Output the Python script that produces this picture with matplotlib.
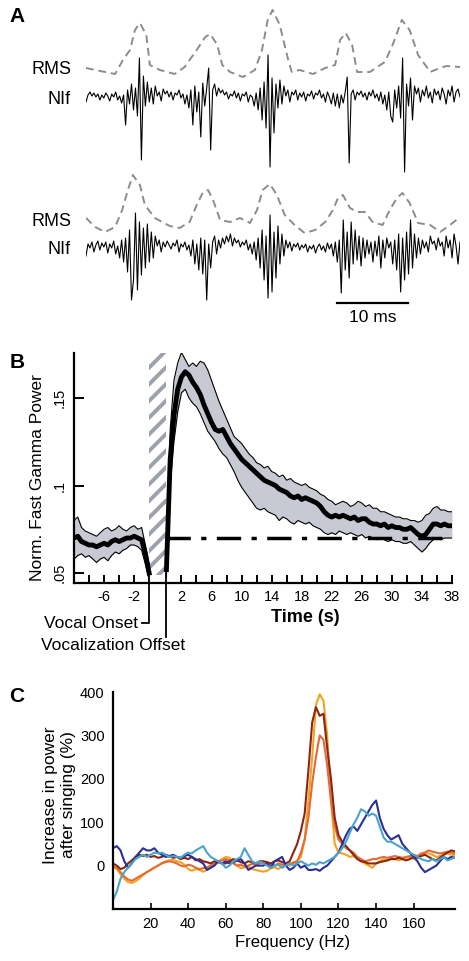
import numpy as np
import matplotlib
matplotlib.use("Agg")
import matplotlib.pyplot as plt
from matplotlib.patches import Rectangle
from matplotlib.transforms import blended_transform_factory

plt.rcParams['font.family'] = ['Liberation Sans', 'DejaVu Sans']
plt.rcParams['hatch.linewidth'] = 2.8

W, H = 469, 961


def fx(px):
    return px / W


def fy(py):
    return 1 - py / H


# ---------------- Panel A: NIf traces (arbitrary units) ----------------
trace_len_ms = 52.7
nif_1 = [-4, 3, 6, 2, 5, 1, 4, -2, 3, 0,
         5, 2, -3, 4, 1, 6, -2, 2, -5, 3,
         -27, 8, -6, 14, -12, 10, -18, 40, -62, 22,
         -8, 16, -4, 10, -6, 12, 2, 6, -3, 9,
         4, 7, 1, 6, -2, 5, 3, 8, 0, 4,
         -6, 3, -10, 8, -27, 12, -14, 6, -39, 15,
         -8, 10, 30, -52, 8, 14, 2, 10, 5, 8,
         3, 6, -1, 4, 2, 7, 0, 5, -3, 4,
         2, 6, -4, 3, 1, -8, 5, -12, 10, -22,
         16, -30, 43, -69, 20, -35, 14, -10, 18, -6,
         12, 2, 8, -4, 6, 3, 8, -2, 5, 1,
         6, -3, 4, 2, 7, -1, 5, 3, 8, 0,
         4, -4, 6, 1, -6, 5, -8, 4, -10, 3,
         -5, 6, 21, -65, 4, 8, -2, 6, 3, 7,
         1, 5, -2, 6, 2, 8, 0, 4, -3, 6,
         -6, 3, -12, 6, -18, -24, 8, -10, 12, -20,
         40, -74, 14, -8, 20, -22, 12, 4, 10, -4,
         8, 2, 12, 0, 6, -5, 9, 3, 7, -2,
         10, 4, -6, 8, 2, 12, -4, 6, 9, 1]
nif_2 = [-6, 6, 2, 8, -2, 5, 9, 0, 7, 3,
         8, -3, 6, 2, 9, -4, 4, -8, 10, -12,
         12, -22, 20, -50, -30, 37, -40, 28, -25, 22,
         -18, 26, -12, 18, -8, 14, 4, 10, -2, 8,
         3, 9, 5, 1, 7, 4, 10, -2, 6, 3,
         8, 0, 5, -6, 10, -14, 6, -20, 12, -24,
         10, -50, 6, -18, 8, 14, -4, 10, 2, 12,
         6, 14, 8, 16, 4, 12, 7, 10, 3, 8,
         5, 10, 0, 6, -4, 8, -10, 12, -18, 20,
         -30, 14, -48, 35, -42, 18, -28, 24, -14, 16,
         -6, 10, 2, 8, -1, 6, 3, 7, 0, 5,
         2, 6, -2, 4, 1, 5, -3, 3, 6, 0,
         4, -2, 7, 1, 6, -6, 8, -12, 10, -43,
         30, -20, 18, -28, 28, -14, 20, -10, 14, -16,
         12, -8, 10, -4, 8, -12, 9, -6, 14, -18,
         10, -8, 12, 2, 8, -14, 10, -20, 16, -42,
         12, -30, 18, -24, 30, -18, 16, -8, 12, -4,
         10, 2, 8, -2, 14, 6, 9, 0, 12, 4,
         8, -6, 14, 2, 10, -8, 16, 4, -14, 8]

rms_t_1 = [0.0, 2.0, 4.1, 5.2, 6.2, 6.9, 7.6, 8.5, 9.0, 10.4, 12.5, 13.9, 15.6, 16.8, 17.5,
           18.5, 19.2, 20.3, 22.1, 23.8, 24.8, 25.6, 26.3, 27.3, 28.5, 29.0, 30.1, 32.0,
           33.7, 35.1, 35.8, 36.6, 37.5, 38.2, 40.0, 42.1, 43.2, 44.5, 45.6, 46.8, 48.5,
           49.9, 50.8, 52.7]
rms_1 = [2, -1, -4, 10, 20, 40, 47, 35, 5, 0, -4, 3, 20, 33, 36,
         25, 5, -2, -7, 0, 20, 50, 60, 45, 10, -2, 0, -4,
         2, 5, 30, 37, 25, -2, -2, 8, 25, 50, 40, 15, -2,
         2, 4, 3]
rms_t_2 = [0.0, 1.3, 2.7, 4.1, 5.1, 5.9, 6.6, 7.6, 8.3, 9.7, 11.8, 13.2, 14.6, 15.6, 16.5,
           17.2, 17.9, 18.9, 20.3, 21.7, 23.1, 24.1, 24.9, 25.9, 26.9, 28.0, 29.4, 30.8,
           32.3, 33.7, 34.8, 35.5, 36.2, 37.2, 38.2, 39.3, 40.4, 41.8, 42.8, 43.8, 44.6,
           45.6, 46.8, 48.5, 49.9, 51.3, 52.7]
rms_2 = [12, 3, -2, 3, 20, 40, 55, 45, 25, 12, 4, 2, 8, 25, 38,
         40, 30, 10, 8, 12, 7, 20, 40, 46, 35, 15, 5, -3,
         0, 8, 20, 32, 35, 22, 18, 18, 8, 5, 20, 32, 37,
         27, 7, 5, -2, 5, 13]
scale_bar_ms = 10

# ---------------- Panel B: fast gamma power ----------------
vocal_gap = 2.3  # width of the vocalization period on the axis (s)
t_pre = np.arange(-10, 0.01, 0.5)
t_post = np.arange(0, 38.01, 0.5)
mean_pre = [.070, .071, .068, .067, .066, .066, .065, .066, .067, .066, .068,
            .069, .068, .069, .070, .070, .071, .070, .069, .061, .050]
upper_pre = [.080, .082, .076, .074, .073, .072, .071, .073, .075, .076, .074,
             .075, .077, .075, .074, .076, .077, .075, .076, .066, .055]
lower_pre = [.058, .060, .061, .059, .060, .058, .056, .058, .059, .057, .060,
             .062, .061, .063, .064, .066, .066, .065, .063, .055, .046]
mean_post = [.052, .115, .140, .155, .162, .165, .163, .159, .156, .152,
             .146, .141, .136, .132, .131, .132, .128, .124, .121, .118,
             .115, .113, .111, .109, .107, .105, .103, .102, .101, .100,
             .098, .097, .096, .094, .093, .094, .092, .093, .092, .091,
             .090, .088, .085, .083, .082, .083, .082, .083, .082, .081,
             .082, .080, .081, .081, .079, .078, .078, .077, .078, .076,
             .077, .076, .076, .075, .075, .076, .074, .072, .071, .072,
             .075, .078, .078, .077, .078, .077, .077]
upper_post = [.058, .132, .160, .170, .176, .172, .168, .170, .168, .171,
              .170, .166, .160, .154, .148, .143, .138, .133, .128, .126,
              .124, .121, .118, .116, .113, .112, .110, .111, .108, .107,
              .105, .106, .103, .104, .102, .101, .100, .101, .099, .098,
              .097, .095, .094, .092, .091, .089, .090, .091, .090, .088,
              .089, .091, .090, .088, .089, .087, .087, .085, .085, .084,
              .083, .082, .082, .081, .081, .080, .080, .079, .080, .083,
              .084, .087, .088, .086, .086, .085, .085]
lower_post = [.048, .100, .125, .142, .153, .155, .150, .147, .145, .141,
              .136, .131, .128, .125, .121, .118, .116, .112, .108, .103,
              .099, .096, .093, .090, .087, .086, .087, .085, .084, .083,
              .080, .082, .081, .079, .078, .080, .079, .078, .079, .077,
              .076, .075, .073, .072, .073, .072, .074, .073, .072, .073,
              .072, .071, .072, .070, .071, .070, .069, .070, .069, .068,
              .069, .068, .068, .067, .067, .068, .066, .064, .062, .064,
              .067, .069, .070, .069, .070, .070, .070]
baseline_power = 0.07

# ---------------- Panel C: power spectra increase ----------------
freqs = np.arange(0, 183, 2)
spec_orange = [-2, -8, -20, -30, -38, -40, -36, -30, -22, -15,
               -10, -4, 0, 6, 10, 12, 14, 10, 8, 2,
               -8, -12, -8, -10, -14, -10, -4, 2, 8, 15,
               20, 18, 8, 0, -6, -4, -2, -8, -10, -12,
               -14, -12, -6, -4, -8, -2, 4, 0, 8, 10,
               20, 60, 150, 250, 370, 395, 380, 300, 150, 50,
               30, 28, 25, 20, 22, 18, 10, 5, 0, -5,
               5, 10, 15, 12, 18, 15, 12, 15, 18, 20,
               15, 18, 25, 30, 28, 25, 20, 22, 25, 28,
               25, 24]
spec_coral = [-2, -5, -15, -25, -32, -35, -30, -25, -20, -15,
              -10, -5, 0, 5, 8, 10, 8, 5, 0, -2,
              2, 0, -5, -8, -6, -4, 0, 5, 10, 12,
              15, 12, 5, 0, 2, -2, 0, 4, 2, 5,
              8, 4, 2, 0, 5, 2, 0, 4, 6, 10,
              30, 60, 110, 190, 250, 300, 290, 230, 150, 90,
              60, 50, 40, 35, 30, 20, 15, 10, 12, 15,
              15, 18, 20, 18, 20, 22, 20, 18, 20, 22,
              25, 22, 28, 30, 35, 32, 30, 28, 30, 32,
              30, 28]
spec_darkred = [5, 0, -8, -5, 5, 12, 20, 25, 22, 25,
                20, 22, 18, 20, 25, 22, 18, 20, 15, 18,
                15, 20, 12, 15, 10, 8, 5, 10, 8, 5,
                5, 10, 15, 12, 8, 5, 10, 8, 5, 10,
                10, 8, 5, 10, 12, 8, 5, 10, 30, 50,
                80, 120, 220, 330, 365, 345, 350, 270, 200, 110,
                70, 55, 45, 35, 25, 15, 10, 8, 5, 5,
                5, 8, 10, 12, 15, 15, 18, 15, 12, 15,
                20, 18, 22, 25, 20, 15, 12, 18, 25, 30,
                35, 33]
spec_darkblue = [40, 45, 35, 10, -5, 5, 20, 30, 40, 35,
                 35, 40, 30, 25, 20, 22, 25, 20, 18, 22,
                 25, 20, 15, 10, 5, -10, -5, 0, 10, 5,
                 10, 5, 8, 12, 15, 5, -10, -5, 0, 0,
                 0, 5, -5, 10, 15, 20, 0, -10, -5, 5,
                 -5, 0, -10, -10, -8, -12, -5, 0, 10, 20,
                 30, 50, 70, 85, 90, 80, 95, 110, 125, 140,
                 150, 110, 85, 70, 60, 65, 70, 50, 40, 30,
                 20, 10, -5, -15, -10, -5, 0, 10, 20, 15,
                 20, 18]
spec_lightblue = [-80, -60, -30, -15, -5, 5, 15, 20, 25, 20,
                  25, 30, 28, 30, 25, 20, 22, 20, 18, 25,
                  30, 28, 35, 40, 45, 30, 20, 15, 10, 5,
                  -5, 0, 10, 15, 20, 40, 25, 10, 5, 10,
                  5, 0, -5, 0, 2, -5, 0, 5, 0, 5,
                  10, 5, 0, 5, 2, 8, 5, 10, 15, 20,
                  30, 40, 55, 75, 95, 110, 130, 125, 115, 120,
                  115, 90, 65, 55, 55, 50, 45, 40, 35, 30,
                  25, 20, 15, 12, 10, 15, 10, 15, 20, 12,
                  15, 20]
spec_colors = ['#f4a31d', '#e46a3a', '#8a2611', '#2a2f98', '#4aa4cc']

fig = plt.figure(figsize=(W / 100, H / 100), dpi=100)

# ---- Panel A ----
axA = fig.add_axes([fx(86), fy(330), (460 - 86) / W, 330 / H])
axA.set_xlim(0, trace_len_ms)
axA.set_ylim(-330, 0)
axA.axis('off')
trials = [(nif_1, rms_t_1, rms_1, -98, -70), (nif_2, rms_t_2, rms_2, -250, -230)]
for nif, rt, rv, nif_off, rms_off in trials:
    t = np.arange(len(nif)) * trace_len_ms / (len(nif) - 1)
    axA.plot(t, np.array(nif) + nif_off, color='black', lw=0.8)
    axA.plot(rt, np.array(rv) + rms_off, color='#8c8c8c', lw=1.4, ls=(0, (4, 2.5)))
bar_x0 = 35.35
axA.plot([bar_x0, bar_x0 + scale_bar_ms], [-303, -303], color='black', lw=1.6)
axA.text(bar_x0 + scale_bar_ms / 2, -317, '10 ms', ha='center', va='center', fontsize=12.5)

for y_rms, y_nif in [(70, 100), (222, 250)]:
    fig.text(fx(71), fy(y_rms), 'RMS', ha='right', va='center', fontsize=13)
    fig.text(fx(71), fy(y_nif), 'NIf', ha='right', va='center', fontsize=13)

# ---- Panel B ----
axB = fig.add_axes([fx(74), fy(583), (452 - 74) / W, (583 - 353) / H])
ymin, ymax = 0.0443, 0.1757
axB.add_patch(Rectangle((0, 0.049), vocal_gap, ymax - 0.049, facecolor='white',
                        edgecolor='#9ca1ab', hatch='//', lw=0, zorder=1))
for tt, lo, up, mn in [(t_pre, lower_pre, upper_pre, mean_pre),
                       (t_post + vocal_gap, lower_post, upper_post, mean_post)]:
    axB.fill_between(tt, lo, up, color='#c8cad3', lw=0, zorder=2)
    axB.plot(tt, lo, color='black', lw=0.8, zorder=3)
    axB.plot(tt, up, color='black', lw=0.8, zorder=3)
    axB.plot(tt, mn, color='black', lw=3.5, zorder=4)
axB.plot([vocal_gap, 38 + vocal_gap], [baseline_power, baseline_power], color='black',
         lw=2.5, ls=(0, (7, 3, 1.5, 3)), zorder=5)
axB.set_xlim(-10, 38 + vocal_gap)
axB.set_ylim(ymin, ymax)
for s in ['top', 'right']:
    axB.spines[s].set_visible(False)
for s in ['left', 'bottom']:
    axB.spines[s].set_linewidth(1.6)
pre_ticks = [-8, -6, -4, -2]
post_ticks = list(range(2, 39, 2))
axB.set_xticks(pre_ticks + [p + vocal_gap for p in post_ticks])
axB.set_xticklabels([str(p) if p in (-6, -2) else '' for p in pre_ticks] +
                    [str(p) if (p - 2) % 4 == 0 else '' for p in post_ticks])
axB.set_yticks([0.05, 0.1, 0.15])
axB.set_yticklabels(['.05', '.1', '.15'], rotation=90, va='center')
axB.tick_params(axis='x', direction='in', length=6, width=1.4, pad=5, labelsize=10.5)
axB.tick_params(axis='y', direction='in', length=7, width=1.4, pad=5, labelsize=10.5)

tr = blended_transform_factory(axB.transData, axB.transAxes)
axB.plot([-1.0, 0, 0], [-0.174, -0.174, 0.03], color='black', lw=1.3,
         transform=tr, clip_on=False)
axB.plot([vocal_gap, vocal_gap], [0.05, -0.235], color='black', lw=1.3,
         transform=tr, clip_on=False)
fig.text(fx(138), fy(623), 'Vocal Onset', ha='right', va='center', fontsize=12.5)
fig.text(fx(41), fy(645), 'Vocalization Offset', ha='left', va='center', fontsize=12.5)
fig.text(fx(305), fy(618), 'Time (s)', ha='center', va='center', fontsize=13,
         fontweight='bold')
fig.text(fx(38), fy(478), 'Norm. Fast Gamma Power', rotation=90, ha='center',
         va='center', fontsize=12.5)

# ---- Panel C ----
axC = fig.add_axes([fx(113), fy(909), (455 - 113) / W, (909 - 692) / H])
for spec, col in zip([spec_orange, spec_coral, spec_darkred, spec_darkblue, spec_lightblue],
                     spec_colors):
    axC.plot(freqs, spec, color=col, lw=1.5)
axC.set_xlim(0, 182)
axC.set_ylim(-100, 400)
for s in ['top', 'right']:
    axC.spines[s].set_visible(False)
for s in ['left', 'bottom']:
    axC.spines[s].set_linewidth(1.6)
axC.set_xticks(range(20, 161, 20))
axC.set_yticks(range(0, 401, 100))
axC.tick_params(axis='x', direction='in', length=4, width=1.2, pad=6, labelsize=10.5)
axC.tick_params(axis='y', direction='in', length=0, pad=6, labelsize=10.5)
fig.text(fx(293), fy(943), 'Frequency (Hz)', ha='center', va='center', fontsize=12)
fig.text(fx(59), fy(795), 'Increase in power\nafter singing (%)', rotation=90,
         ha='center', va='center', fontsize=12.5, linespacing=1.25)

# panel letters
for letter, y in [('A', 17), ('B', 362), ('C', 697)]:
    fig.text(fx(17), fy(y), letter, ha='center', va='center', fontsize=15,
             fontweight='bold')

fig.savefig('out.png', dpi=100)
